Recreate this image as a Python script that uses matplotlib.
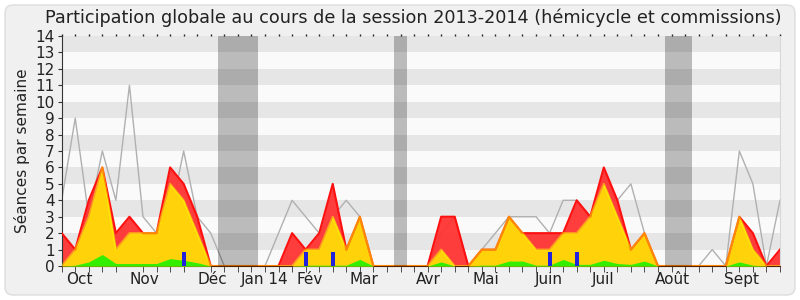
import matplotlib
matplotlib.use("Agg")
import matplotlib.pyplot as plt
import matplotlib.patches as mpatches
from matplotlib.transforms import IdentityTransform

# one value per week, session 2013-2014 (54 weeks)
weeks = list(range(54))

total = [4, 9, 3, 7, 4, 11, 3, 2, 3, 7, 3, 2, 0, 0, 0, 0, 2, 4, 3, 2,
         3, 4, 3, 0, 0, 0, 0, 0, 2, 3, 0, 1, 2, 3, 3, 3, 2, 4, 4, 3,
         5, 4, 5, 2, 0, 0, 0, 0, 1, 0, 7, 5, 0, 4]
presence = [2, 1, 4, 6, 2, 3, 2, 2, 6, 5, 3, 0, 0, 0, 0, 0, 0, 2, 1, 2,
            5, 1, 3, 0, 0, 0, 0, 0, 3, 3, 0, 1, 1, 3, 2, 2, 2, 2, 4, 3,
            6, 4, 1, 2, 0, 0, 0, 0, 0, 0, 3, 2, 0, 1]
commission = [0, 1, 3, 6, 1, 2, 2, 2, 5, 4, 2, 0, 0, 0, 0, 0, 0, 0, 1, 1,
              3, 1, 3, 0, 0, 0, 0, 0, 1, 0, 0, 1, 1, 3, 2, 1, 1, 2, 2, 3,
              5, 3, 1, 2, 0, 0, 0, 0, 0, 0, 3, 1, 0, 0]
hemicycle = [0, 0.05, 0.25, 0.7, 0.15, 0.15, 0.15, 0.15, 0.45, 0.35, 0.2, 0, 0, 0, 0, 0, 0, 0, 0.05, 0.05,
             0.05, 0.05, 0.4, 0, 0, 0, 0, 0, 0.25, 0, 0, 0.05, 0.05, 0.3, 0.3, 0.05, 0.05, 0.4, 0.1, 0.1,
             0.35, 0.15, 0.1, 0.3, 0, 0, 0, 0, 0, 0, 0.25, 0.05, 0, 0]

question_weeks = [9, 18, 20, 36, 38]
question_values = [0.85, 0.85, 0.85, 0.85, 0.85]

vacances = [(11.5, 14.5), (24.5, 25.5), (44.5, 46.5)]

mois = ["Oct", "Nov", "Déc", "Jan 14", "Fév", "Mar", "Avr", "Mai", "Juin", "Juil", "Août", "Sept"]
mois_pos = [0.3, 5.0, 10.0, 13.2, 17.3, 21.2, 26.1, 30.3, 34.9, 39.1, 43.8, 48.9]

fig = plt.figure(figsize=(8, 3), dpi=100)
fig.patch.set_facecolor("white")
cadre = mpatches.FancyBboxPatch((5, 5), 790, 290, boxstyle="round,pad=0,rounding_size=8",
                                transform=IdentityTransform(), facecolor="#f0f0f0",
                                edgecolor="#dddddd", linewidth=1, zorder=-10)
fig.patches.append(cadre)

ax = fig.add_axes([0.0771, 0.1133, 0.8979, 0.7667])
ax.set_facecolor("#fafafa")

# horizontal bands
for y in range(1, 14, 2):
    ax.axhspan(y, y + 1, color="#e6e6e6", lw=0, zorder=0)

ax.plot(weeks, total, color="#b0b0b0", lw=1, zorder=1)
ax.fill_between(weeks, 0, presence, color="#ff3333", alpha=0.95, lw=0, zorder=2)
ax.fill_between(weeks, 0, commission, color="#ffd20a", lw=0, zorder=3)
ax.fill_between(weeks, 0, hemicycle, color="#33ee00", lw=0, zorder=4)
ax.plot(weeks, presence, color="#ff1010", lw=1.5, zorder=5)
ax.plot(weeks, commission, color="#ffff00", lw=1.5, alpha=0.5, zorder=6)
ax.bar(question_weeks, question_values, width=0.3, color="#2222dd", zorder=7)

for a, b in vacances:
    ax.axvspan(a, b, color="black", alpha=0.25, lw=0, zorder=8)

ax.set_xlim(0, 53)
ax.set_ylim(0, 14)
ax.set_yticks(range(15))
ax.tick_params(axis="y", labelsize=11, length=3, color="#333333", labelcolor="#222222", pad=2)

ax.set_xticks(weeks, minor=True)
ax.set_xticks(mois_pos, mois)
for lab in ax.get_xticklabels():
    lab.set_ha("left")
ax.tick_params(axis="x", which="major", length=0, labelsize=11, labelcolor="#222222", pad=4)
ax.tick_params(axis="x", which="minor", length=4, color="#333333")
ax.set_ylabel("Séances par semaine", fontsize=11, labelpad=4, color="#222222")

# little dots along the top edge, one per week
top = ax.secondary_xaxis("top")
top.set_xticks(weeks, [])
top.spines["top"].set_visible(False)
top.tick_params(axis="x", length=1.5, width=1, color="#222222", pad=0)

ax.spines["top"].set_visible(False)
ax.spines["right"].set_color("#d8d8d8")
ax.spines["left"].set_color("#333333")
ax.spines["bottom"].set_color("#552200")

fig.text(0.517, 0.94, "Participation globale au cours de la session 2013-2014 (hémicycle et commissions)",
         ha="center", va="center", fontsize=12.7, color="#222222")

fig.savefig("out.png", dpi=100)
